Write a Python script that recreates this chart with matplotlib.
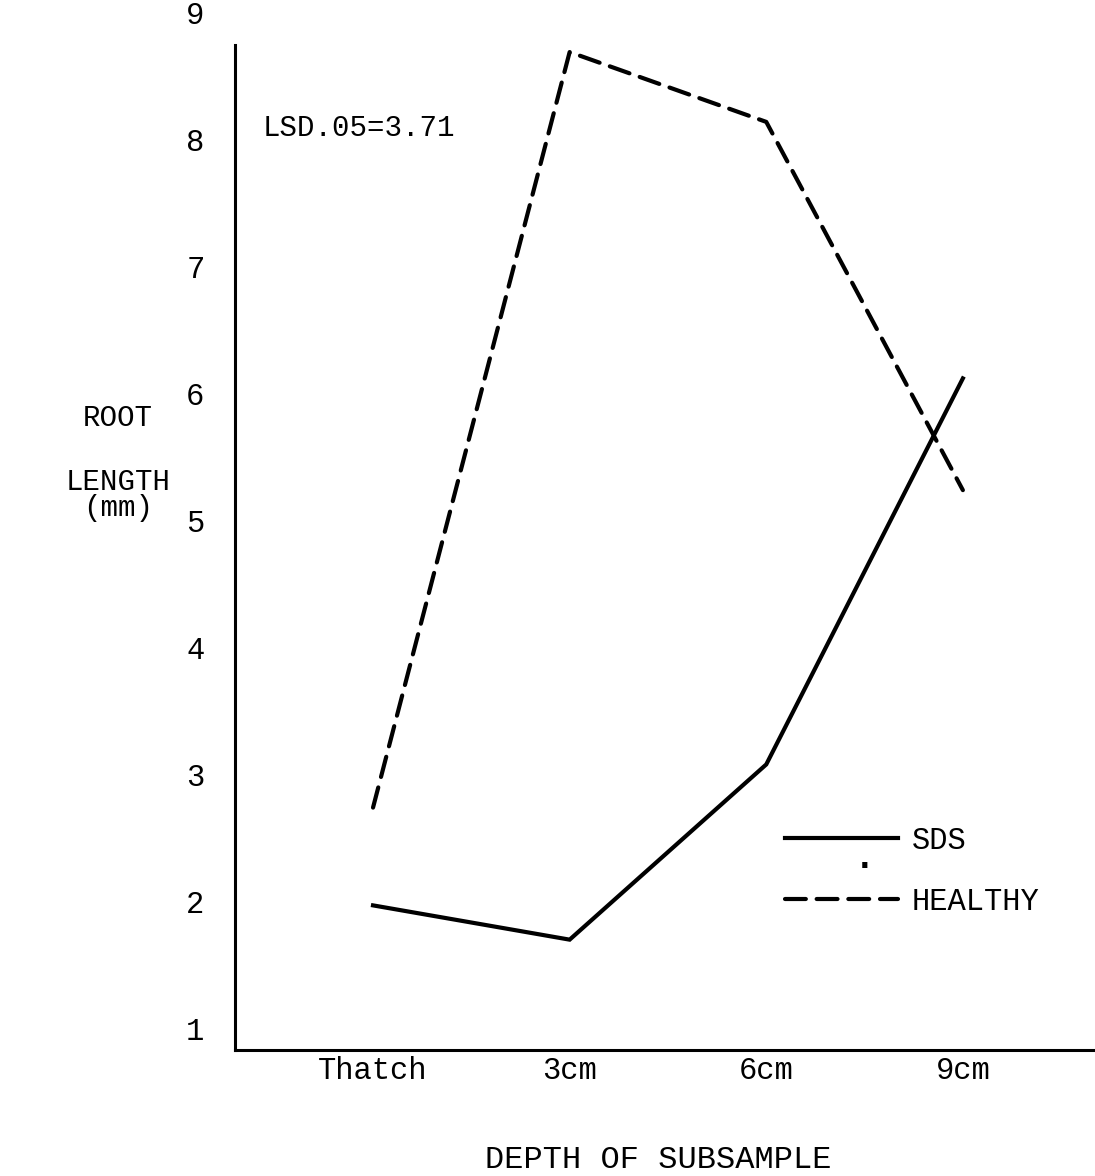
import numpy as np
import matplotlib
matplotlib.use("Agg")
import matplotlib.pyplot as plt

plt.rcParams['font.family'] = ['Liberation Mono', 'DejaVu Sans Mono']

# data
depths = ['Thatch', '3cm', '6cm', '9cm']
sds = [1.97, 1.70, 3.08, 6.12]
healthy = [2.74, 8.69, 8.14, 5.24]
y_ticks = [1, 2, 3, 4, 5, 6, 7, 8, 9]

W, H = 1095, 1176
fig = plt.figure(figsize=(W / 100, H / 100), dpi=100)
# axes box in figure fractions (pixels / size)
ax = fig.add_axes([235 / W, 126 / H, 1 - 235 / W, 1 - 126 / H])

x = np.arange(len(depths))
ax.plot(x, sds, color='black', lw=3, solid_joinstyle='miter', label='SDS')
ax.plot(x, healthy, color='black', lw=3, dashes=(5.0, 2.6),
        dash_capstyle='round', label='HEALTHY')

ax.set_xlim(-0.702, 3.672)
ax.set_ylim(0.831, 9.1)

for s in ['top', 'right']:
    ax.spines[s].set_visible(False)
ax.spines['left'].set_linewidth(2.2)
ax.spines['bottom'].set_linewidth(2.2)
ax.spines['left'].set_bounds(0.831, 8.745)

fs = 22
ax.set_xticks(x)
ax.set_xticklabels(depths, fontsize=fs)
ax.set_yticks(y_ticks)
ax.set_yticklabels([str(v) for v in y_ticks], fontsize=fs)
ax.tick_params(axis='y', length=0, pad=22)
ax.tick_params(axis='x', length=0, pad=4)

fig.text(263 / W, 1 - 128 / H, 'LSD.05=3.71', fontsize=fs - 1, va='center', ha='left')

fig.text(118 / W, 1 - 418 / H, 'ROOT', fontsize=fs - 1, ha='center', va='center')
fig.text(118 / W, 1 - 482 / H, 'LENGTH', fontsize=fs - 1, ha='center', va='center')
fig.text(118 / W, 1 - 508 / H, '(mm)', fontsize=fs - 1, ha='center', va='center')

fig.text(658 / W, 1 - 1160 / H, 'DEPTH OF SUBSAMPLE', fontsize=fs + 1, ha='center', va='center')

ax.legend(loc='upper left', bbox_to_anchor=(785 / W, 1 - 826 / H),
          bbox_transform=fig.transFigure, frameon=False, fontsize=fs,
          handlelength=3.7, handletextpad=0.45, labelspacing=1.0,
          borderpad=0, borderaxespad=0)
fig.text(865 / W, 1 - 858 / H, '.', fontsize=26, fontweight='bold', ha='center', va='center')

fig.savefig('out.png', dpi=100)
